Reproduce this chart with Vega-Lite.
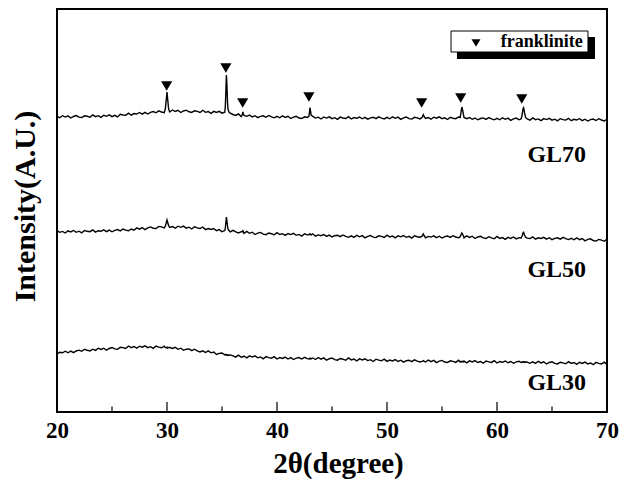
{
  "$schema": "https://vega.github.io/schema/vega-lite/v6.json",
  "width": 550,
  "height": 403,
  "autosize": {"type": "none"},
  "padding": {"left": 57, "top": 9, "right": 14, "bottom": 77},
  "background": "white",
  "config": {"view": {"stroke": "#000", "strokeWidth": 2}, "font": "Liberation Serif"},
  "datasets": {
    "xrd": [
      {"x":20,"GL70":295.6,"GL50":181.4,"GL30":58.0},
      {"x":20.25,"GL70":294.3,"GL50":179.7,"GL30":59.7},
      {"x":20.5,"GL70":296.3,"GL50":180.6,"GL30":59.2},
      {"x":20.75,"GL70":294.9,"GL50":179.0,"GL30":60.8},
      {"x":21,"GL70":296.1,"GL50":181.1,"GL30":59.2},
      {"x":21.25,"GL70":294.0,"GL50":180.1,"GL30":60.9},
      {"x":21.5,"GL70":295.5,"GL50":181.5,"GL30":59.3},
      {"x":21.75,"GL70":296.4,"GL50":179.7,"GL30":61.0},
      {"x":22,"GL70":294.8,"GL50":180.8,"GL30":61.8},
      {"x":22.25,"GL70":294.4,"GL50":179.2,"GL30":60.7},
      {"x":22.5,"GL70":296.2,"GL50":181.5,"GL30":62.7},
      {"x":22.75,"GL70":295.7,"GL50":180.7,"GL30":61.7},
      {"x":23,"GL70":294.7,"GL50":180.3,"GL30":61.1},
      {"x":23.25,"GL70":297.1,"GL50":182.1,"GL30":62.8},
      {"x":23.5,"GL70":295.3,"GL50":179.9,"GL30":61.6},
      {"x":23.75,"GL70":296.3,"GL50":181.3,"GL30":63.8},
      {"x":24,"GL70":294.6,"GL50":180.7,"GL30":62.5},
      {"x":24.25,"GL70":296.7,"GL50":182.1,"GL30":63.8},
      {"x":24.5,"GL70":295.7,"GL50":180.4,"GL30":61.8},
      {"x":24.75,"GL70":297.1,"GL50":181.9,"GL30":63.5},
      {"x":25,"GL70":295.3,"GL50":180.2,"GL30":64.5},
      {"x":25.25,"GL70":296.6,"GL50":181.7,"GL30":63.1},
      {"x":25.5,"GL70":295.1,"GL50":182.4,"GL30":62.8},
      {"x":25.75,"GL70":297.7,"GL50":181.1,"GL30":64.8},
      {"x":26,"GL70":297.0,"GL50":183.0,"GL30":64.4},
      {"x":26.25,"GL70":296.8,"GL50":181.8,"GL30":63.5},
      {"x":26.5,"GL70":298.8,"GL50":181.2,"GL30":66.0},
      {"x":26.75,"GL70":296.8,"GL50":183.0,"GL30":64.4},
      {"x":27,"GL70":298.4,"GL50":181.8,"GL30":65.5},
      {"x":27.25,"GL70":298.0,"GL50":184.1,"GL30":63.8},
      {"x":27.5,"GL70":299.5,"GL50":182.8,"GL30":65.8},
      {"x":27.75,"GL70":297.9,"GL50":184.3,"GL30":64.8},
      {"x":28,"GL70":299.6,"GL50":182.3,"GL30":66.1},
      {"x":28.25,"GL70":298.0,"GL50":184.1,"GL30":64.3},
      {"x":28.5,"GL70":299.6,"GL50":185.1,"GL30":65.3},
      {"x":28.75,"GL70":300.4,"GL50":183.8,"GL30":63.6},
      {"x":29,"GL70":299.2,"GL50":183.5,"GL30":65.9},
      {"x":29.25,"GL70":301.1,"GL50":185.6,"GL30":64.9},
      {"x":29.5,"GL70":300.0,"GL50":185.1,"GL30":64.2},
      {"x":29.75,"GL70":299.4,"GL50":184.1,"GL30":65.8},
      {"x":29.85,"GL70":303.4,"GL50":186.0,"GL30":64.4},
      {"x":29.95,"GL70":314.2,"GL50":189.9,"GL30":64.3},
      {"x":30,"GL70":320.0,"GL50":192.0,"GL30":64.8},
      {"x":30.05,"GL70":314.0,"GL50":190.0,"GL30":63.9},
      {"x":30.15,"GL70":303.0,"GL50":186.3,"GL30":64.6},
      {"x":30.25,"GL70":300.0,"GL50":184.6,"GL30":64.5},
      {"x":30.5,"GL70":302.0,"GL50":185.5,"GL30":63.6},
      {"x":30.75,"GL70":300.5,"GL50":183.8,"GL30":64.7},
      {"x":31,"GL70":301.7,"GL50":185.8,"GL30":62.7},
      {"x":31.25,"GL70":299.5,"GL50":184.7,"GL30":63.8},
      {"x":31.5,"GL70":301.0,"GL50":185.9,"GL30":61.7},
      {"x":31.75,"GL70":301.8,"GL50":183.9,"GL30":62.8},
      {"x":32,"GL70":300.2,"GL50":184.8,"GL30":63.1},
      {"x":32.25,"GL70":299.6,"GL50":183.0,"GL30":61.3},
      {"x":32.5,"GL70":301.3,"GL50":185.2,"GL30":62.8},
      {"x":32.75,"GL70":300.6,"GL50":184.1,"GL30":61.2},
      {"x":33,"GL70":299.5,"GL50":183.5,"GL30":60.1},
      {"x":33.25,"GL70":301.7,"GL50":185.0,"GL30":61.2},
      {"x":33.5,"GL70":299.7,"GL50":182.4,"GL30":59.5},
      {"x":33.75,"GL70":300.5,"GL50":183.5,"GL30":61.1},
      {"x":34,"GL70":298.7,"GL50":182.5,"GL30":59.2},
      {"x":34.25,"GL70":300.6,"GL50":183.4,"GL30":60.0},
      {"x":34.5,"GL70":299.5,"GL50":181.3,"GL30":57.5},
      {"x":34.75,"GL70":300.7,"GL50":182.4,"GL30":58.6},
      {"x":35,"GL70":298.8,"GL50":180.3,"GL30":59.0},
      {"x":35.25,"GL70":299.8,"GL50":181.4,"GL30":57.1},
      {"x":35.3,"GL70":305.0,"GL50":183.5,"GL30":57.6},
      {"x":35.35,"GL70":320.0,"GL50":189.5,"GL30":57.0},
      {"x":35.4,"GL70":337.0,"GL50":195.0,"GL30":57.4},
      {"x":35.45,"GL70":326.0,"GL50":191.0,"GL30":56.9},
      {"x":35.5,"GL70":310.0,"GL50":186.0,"GL30":57.2},
      {"x":35.55,"GL70":302.5,"GL50":182.8,"GL30":56.6},
      {"x":35.65,"GL70":299.6,"GL50":181.2,"GL30":57.0},
      {"x":35.75,"GL70":298.8,"GL50":180.2,"GL30":57.1},
      {"x":36,"GL70":297.5,"GL50":181.7,"GL30":56.2},
      {"x":36.25,"GL70":296.6,"GL50":180.2,"GL30":54.9},
      {"x":36.5,"GL70":298.1,"GL50":179.1,"GL30":56.9},
      {"x":36.75,"GL70":295.4,"GL50":180.4,"GL30":54.8},
      {"x":36.85,"GL70":297.5,"GL50":180.3,"GL30":55.3},
      {"x":36.9,"GL70":300.2,"GL50":181.2,"GL30":55.0},
      {"x":36.95,"GL70":298.0,"GL50":180.1,"GL30":55.6},
      {"x":37,"GL70":296.6,"GL50":178.7,"GL30":56.0},
      {"x":37.25,"GL70":295.7,"GL50":180.6,"GL30":54.2},
      {"x":37.5,"GL70":296.9,"GL50":178.7,"GL30":56.1},
      {"x":37.75,"GL70":295.0,"GL50":179.8,"GL30":54.9},
      {"x":38,"GL70":296.3,"GL50":177.5,"GL30":56.1},
      {"x":38.25,"GL70":294.4,"GL50":178.9,"GL30":54.2},
      {"x":38.5,"GL70":295.7,"GL50":179.6,"GL30":55.1},
      {"x":38.75,"GL70":296.2,"GL50":177.9,"GL30":53.2},
      {"x":39,"GL70":294.7,"GL50":177.3,"GL30":55.4},
      {"x":39.25,"GL70":296.5,"GL50":179.0,"GL30":54.4},
      {"x":39.5,"GL70":295.1,"GL50":178.3,"GL30":53.8},
      {"x":39.75,"GL70":294.2,"GL50":177.2,"GL30":55.4},
      {"x":40,"GL70":295.6,"GL50":179.4,"GL30":53.0},
      {"x":40.25,"GL70":294.2,"GL50":177.5,"GL30":54.4},
      {"x":40.5,"GL70":296.1,"GL50":178.3,"GL30":53.6},
      {"x":40.75,"GL70":294.6,"GL50":176.6,"GL30":54.9},
      {"x":41,"GL70":295.7,"GL50":178.5,"GL30":53.0},
      {"x":41.25,"GL70":293.5,"GL50":177.4,"GL30":54.4},
      {"x":41.5,"GL70":294.9,"GL50":178.6,"GL30":52.5},
      {"x":41.75,"GL70":295.7,"GL50":176.7,"GL30":53.9},
      {"x":42,"GL70":294.0,"GL50":177.6,"GL30":54.4},
      {"x":42.25,"GL70":293.5,"GL50":175.9,"GL30":53.0},
      {"x":42.5,"GL70":295.2,"GL50":178.1,"GL30":54.7},
      {"x":42.75,"GL70":294.6,"GL50":177.1,"GL30":53.4},
      {"x":42.9,"GL70":295.6,"GL50":177.3,"GL30":53.0},
      {"x":42.95,"GL70":299.5,"GL50":177.6,"GL30":53.6},
      {"x":43,"GL70":304.4,"GL50":178.2,"GL30":53.2},
      {"x":43.05,"GL70":301.0,"GL50":177.8,"GL30":53.7},
      {"x":43.1,"GL70":296.8,"GL50":177.0,"GL30":53.1},
      {"x":43.25,"GL70":295.7,"GL50":178.2,"GL30":54.0},
      {"x":43.5,"GL70":293.9,"GL50":175.8,"GL30":52.5},
      {"x":43.75,"GL70":294.8,"GL50":177.1,"GL30":54.5},
      {"x":44,"GL70":293.0,"GL50":176.3,"GL30":52.9},
      {"x":44.25,"GL70":295.0,"GL50":177.5,"GL30":54.1},
      {"x":44.5,"GL70":293.9,"GL50":175.6,"GL30":51.8},
      {"x":44.75,"GL70":295.2,"GL50":176.9,"GL30":53.3},
      {"x":45,"GL70":293.3,"GL50":175.0,"GL30":54.0},
      {"x":45.25,"GL70":294.3,"GL50":176.3,"GL30":52.3},
      {"x":45.5,"GL70":292.6,"GL50":176.8,"GL30":51.8},
      {"x":45.75,"GL70":294.9,"GL50":175.3,"GL30":53.5},
      {"x":46,"GL70":294.0,"GL50":177.0,"GL30":52.8},
      {"x":46.25,"GL70":293.5,"GL50":175.6,"GL30":51.7},
      {"x":46.5,"GL70":295.3,"GL50":174.7,"GL30":54.0},
      {"x":46.75,"GL70":293.0,"GL50":176.2,"GL30":52.1},
      {"x":47,"GL70":294.4,"GL50":174.7,"GL30":52.9},
      {"x":47.25,"GL70":293.7,"GL50":176.7,"GL30":51.2},
      {"x":47.5,"GL70":295.0,"GL50":175.2,"GL30":53.1},
      {"x":47.75,"GL70":293.2,"GL50":176.4,"GL30":52.0},
      {"x":48,"GL70":294.6,"GL50":174.2,"GL30":53.2},
      {"x":48.25,"GL70":292.8,"GL50":175.7,"GL30":51.4},
      {"x":48.5,"GL70":294.2,"GL50":176.5,"GL30":52.3},
      {"x":48.75,"GL70":294.8,"GL50":174.9,"GL30":50.5},
      {"x":49,"GL70":293.4,"GL50":174.4,"GL30":52.8},
      {"x":49.25,"GL70":295.2,"GL50":176.2,"GL30":51.8},
      {"x":49.5,"GL70":293.9,"GL50":175.6,"GL30":51.2},
      {"x":49.75,"GL70":293.1,"GL50":174.5,"GL30":52.9},
      {"x":50,"GL70":294.6,"GL50":176.8,"GL30":50.6},
      {"x":50.25,"GL70":293.2,"GL50":175.0,"GL30":51.9},
      {"x":50.5,"GL70":295.2,"GL50":175.9,"GL30":51.1},
      {"x":50.75,"GL70":293.7,"GL50":174.2,"GL30":52.4},
      {"x":51,"GL70":294.9,"GL50":176.2,"GL30":50.5},
      {"x":51.25,"GL70":292.7,"GL50":175.2,"GL30":51.8},
      {"x":51.5,"GL70":294.2,"GL50":176.5,"GL30":49.9},
      {"x":51.75,"GL70":295.0,"GL50":174.7,"GL30":51.3},
      {"x":52,"GL70":293.4,"GL50":175.7,"GL30":51.8},
      {"x":52.25,"GL70":292.9,"GL50":173.9,"GL30":50.4},
      {"x":52.5,"GL70":294.7,"GL50":176.2,"GL30":52.1},
      {"x":52.75,"GL70":294.1,"GL50":175.3,"GL30":50.8},
      {"x":53,"GL70":293.1,"GL50":174.8,"GL30":50.0},
      {"x":53.2,"GL70":294.8,"GL50":175.9,"GL30":50.6},
      {"x":53.3,"GL70":297.3,"GL50":178.0,"GL30":51.3},
      {"x":53.4,"GL70":295.0,"GL50":176.2,"GL30":50.5},
      {"x":53.5,"GL70":293.6,"GL50":174.2,"GL30":50.0},
      {"x":53.75,"GL70":294.5,"GL50":175.6,"GL30":52.0},
      {"x":54,"GL70":292.8,"GL50":174.9,"GL30":50.4},
      {"x":54.25,"GL70":294.8,"GL50":176.2,"GL30":51.6},
      {"x":54.5,"GL70":293.8,"GL50":174.4,"GL30":49.4},
      {"x":54.75,"GL70":295.1,"GL50":175.8,"GL30":50.9},
      {"x":55,"GL70":293.3,"GL50":174.0,"GL30":51.6},
      {"x":55.25,"GL70":294.2,"GL50":175.4,"GL30":50.0},
      {"x":55.5,"GL70":292.5,"GL50":176.0,"GL30":49.5},
      {"x":55.75,"GL70":294.7,"GL50":174.6,"GL30":51.2},
      {"x":56,"GL70":293.8,"GL50":176.3,"GL30":50.6},
      {"x":56.25,"GL70":293.3,"GL50":175.0,"GL30":49.6},
      {"x":56.5,"GL70":295.0,"GL50":174.2,"GL30":51.8},
      {"x":56.65,"GL70":294.5,"GL50":175.3,"GL30":50.0},
      {"x":56.72,"GL70":299.0,"GL50":177.0,"GL30":50.6},
      {"x":56.8,"GL70":305.0,"GL50":179.0,"GL30":50.1},
      {"x":56.88,"GL70":301.5,"GL50":177.6,"GL30":50.7},
      {"x":56.96,"GL70":296.8,"GL50":175.8,"GL30":50.2},
      {"x":57,"GL70":294.6,"GL50":174.2,"GL30":50.9},
      {"x":57.25,"GL70":293.3,"GL50":176.1,"GL30":49.1},
      {"x":57.5,"GL70":294.5,"GL50":174.6,"GL30":51.1},
      {"x":57.75,"GL70":292.7,"GL50":175.8,"GL30":50.1},
      {"x":58,"GL70":294.0,"GL50":173.5,"GL30":51.4},
      {"x":58.25,"GL70":292.2,"GL50":175.0,"GL30":49.5},
      {"x":58.5,"GL70":293.5,"GL50":175.7,"GL30":50.5},
      {"x":58.75,"GL70":294.1,"GL50":174.1,"GL30":48.8},
      {"x":59,"GL70":292.6,"GL50":173.5,"GL30":51.0},
      {"x":59.25,"GL70":294.4,"GL50":175.3,"GL30":50.1},
      {"x":59.5,"GL70":293.1,"GL50":174.2,"GL30":49.6},
      {"x":59.75,"GL70":292.2,"GL50":173.2,"GL30":51.3},
      {"x":60,"GL70":293.6,"GL50":175.5,"GL30":49.0},
      {"x":60.25,"GL70":292.2,"GL50":173.6,"GL30":50.4},
      {"x":60.5,"GL70":294.2,"GL50":174.4,"GL30":49.7},
      {"x":60.75,"GL70":292.7,"GL50":172.7,"GL30":51.0},
      {"x":61,"GL70":293.9,"GL50":174.6,"GL30":49.2},
      {"x":61.25,"GL70":291.6,"GL50":173.6,"GL30":50.5},
      {"x":61.5,"GL70":293.2,"GL50":175.0,"GL30":48.7},
      {"x":61.75,"GL70":293.9,"GL50":173.1,"GL30":50.1},
      {"x":62,"GL70":292.2,"GL50":174.3,"GL30":50.7},
      {"x":62.2,"GL70":293.3,"GL50":174.0,"GL30":49.5},
      {"x":62.28,"GL70":297.0,"GL50":176.0,"GL30":50.1},
      {"x":62.36,"GL70":303.0,"GL50":178.8,"GL30":49.7},
      {"x":62.42,"GL70":304.2,"GL50":179.6,"GL30":50.3},
      {"x":62.5,"GL70":299.5,"GL50":177.0,"GL30":49.6},
      {"x":62.6,"GL70":294.6,"GL50":174.8,"GL30":50.2},
      {"x":62.75,"GL70":293.0,"GL50":173.9,"GL30":49.8},
      {"x":63,"GL70":291.8,"GL50":173.4,"GL30":48.7},
      {"x":63.25,"GL70":294.1,"GL50":175.1,"GL30":50.2},
      {"x":63.5,"GL70":292.3,"GL50":172.8,"GL30":48.7},
      {"x":63.75,"GL70":293.1,"GL50":174.2,"GL30":50.7},
      {"x":64,"GL70":291.4,"GL50":173.5,"GL30":49.1},
      {"x":64.25,"GL70":293.4,"GL50":174.7,"GL30":50.2},
      {"x":64.5,"GL70":292.4,"GL50":172.9,"GL30":48.0},
      {"x":64.75,"GL70":293.6,"GL50":174.3,"GL30":49.5},
      {"x":65,"GL70":291.8,"GL50":172.4,"GL30":50.2},
      {"x":65.25,"GL70":292.8,"GL50":173.6,"GL30":48.6},
      {"x":65.5,"GL70":291.1,"GL50":174.2,"GL30":48.1},
      {"x":65.75,"GL70":293.3,"GL50":172.8,"GL30":49.8},
      {"x":66,"GL70":292.4,"GL50":174.7,"GL30":49.2},
      {"x":66.25,"GL70":291.9,"GL50":173.3,"GL30":48.2},
      {"x":66.5,"GL70":293.7,"GL50":172.4,"GL30":50.4},
      {"x":66.75,"GL70":291.3,"GL50":173.7,"GL30":48.6},
      {"x":67,"GL70":292.7,"GL50":172.2,"GL30":49.5},
      {"x":67.25,"GL70":292.0,"GL50":174.1,"GL30":47.7},
      {"x":67.5,"GL70":293.3,"GL50":172.4,"GL30":49.7},
      {"x":67.75,"GL70":291.4,"GL50":173.5,"GL30":48.6},
      {"x":68,"GL70":292.8,"GL50":171.2,"GL30":49.9},
      {"x":68.25,"GL70":291.0,"GL50":172.6,"GL30":48.1},
      {"x":68.5,"GL70":292.4,"GL50":173.2,"GL30":49.0},
      {"x":68.75,"GL70":292.9,"GL50":171.5,"GL30":47.3},
      {"x":69,"GL70":291.5,"GL50":170.9,"GL30":49.6},
      {"x":69.25,"GL70":293.3,"GL50":172.6,"GL30":48.6},
      {"x":69.5,"GL70":292.0,"GL50":171.9,"GL30":48.1},
      {"x":69.75,"GL70":291.1,"GL50":170.7,"GL30":49.8},
      {"x":70,"GL70":292.6,"GL50":172.9,"GL30":47.5}
    ],
    "peaks": [
      {"x":29.97,"y":326},
      {"x":35.35,"y":344},
      {"x":36.88,"y":309},
      {"x":42.9,"y":315},
      {"x":53.15,"y":309},
      {"x":56.7,"y":314},
      {"x":62.25,"y":313}
    ],
    "labels": [
      {"x":68.1,"y":257,"t":"GL70"},
      {"x":68.1,"y":142,"t":"GL50"},
      {"x":68.1,"y":29,"t":"GL30"}
    ],
    "majorTicks": [{"x":30},{"x":40},{"x":50},{"x":60}],
    "minorTicks": [{"x":25},{"x":35},{"x":45},{"x":55},{"x":65}],
    "legendShadow": [{"x":56.36,"x2":68.91,"y":353,"y2":375}],
    "legendBox": [{"x":55.82,"x2":68.27,"y":360,"y2":381}],
    "legendSymbol": [{"x":58.09,"y":369}],
    "legendText": [{"x":60.35,"y":370,"t":"franklinite"}]
  },
  "layer": [
    {
      "data": {"name": "xrd"},
      "transform": [{"fold": ["GL70", "GL50", "GL30"], "as": ["s", "y"]}],
      "mark": {"type": "line", "color": "#000", "strokeWidth": 1.4},
      "encoding": {
        "x": {"field": "x", "type": "quantitative",
          "scale": {"domain": [20, 70], "nice": false, "zero": false},
          "axis": {"title": "2θ(degree)", "values": [20, 30, 40, 50, 60, 70], "format": "d",
            "ticks": false, "domain": false, "grid": false, "labelFlush": false,
            "labelFont": "Liberation Serif", "labelFontSize": 23, "labelFontWeight": "bold", "labelColor": "#000", "labelPadding": 7,
            "titleFont": "Liberation Serif", "titleFontSize": 29, "titleFontWeight": "bold", "titleColor": "#000", "titlePadding": 7, "titleX": 281}},
        "y": {"field": "y", "type": "quantitative",
          "scale": {"domain": [0, 403], "nice": false, "zero": false},
          "axis": {"title": "Intensity(A.U.)", "labels": false, "ticks": false, "domain": false, "grid": false,
            "titleFont": "Liberation Serif", "titleFontSize": 30, "titleFontWeight": "bold", "titleColor": "#000",
            "titleX": -32, "titleY": 197, "titleBaseline": "middle", "titleAngle": 270, "titleAlign": "center"}},
        "detail": {"field": "s"}
      }
    },
    {
      "data": {"name": "majorTicks"},
      "mark": {"type": "rule", "color": "#000", "strokeWidth": 1.2},
      "encoding": {"x": {"field": "x", "type": "quantitative"}, "y": {"datum": 0, "type": "quantitative"}, "y2": {"datum": 10}}
    },
    {
      "data": {"name": "minorTicks"},
      "mark": {"type": "rule", "color": "#000", "strokeWidth": 1.2},
      "encoding": {"x": {"field": "x", "type": "quantitative"}, "y": {"datum": 0, "type": "quantitative"}, "y2": {"datum": 5.5}}
    },
    {
      "data": {"name": "peaks"},
      "mark": {"type": "point", "shape": "triangle-down", "filled": true, "color": "#000", "opacity": 1, "size": 125},
      "encoding": {"x": {"field": "x", "type": "quantitative"}, "y": {"field": "y", "type": "quantitative"}}
    },
    {
      "data": {"name": "labels"},
      "mark": {"type": "text", "align": "right", "baseline": "middle", "font": "Liberation Serif", "fontSize": 24, "fontWeight": "bold", "color": "#000"},
      "encoding": {"x": {"field": "x", "type": "quantitative"}, "y": {"field": "y", "type": "quantitative"}, "text": {"field": "t"}}
    },
    {
      "data": {"name": "legendShadow"},
      "mark": {"type": "rect", "color": "#000"},
      "encoding": {"x": {"field": "x", "type": "quantitative"}, "x2": {"field": "x2"}, "y": {"field": "y", "type": "quantitative"}, "y2": {"field": "y2"}}
    },
    {
      "data": {"name": "legendBox"},
      "mark": {"type": "rect", "fill": "#fff", "stroke": "#000", "strokeWidth": 1},
      "encoding": {"x": {"field": "x", "type": "quantitative"}, "x2": {"field": "x2"}, "y": {"field": "y", "type": "quantitative"}, "y2": {"field": "y2"}}
    },
    {
      "data": {"name": "legendSymbol"},
      "mark": {"type": "point", "shape": "triangle-down", "filled": true, "color": "#000", "opacity": 1, "size": 80},
      "encoding": {"x": {"field": "x", "type": "quantitative"}, "y": {"field": "y", "type": "quantitative"}}
    },
    {
      "data": {"name": "legendText"},
      "mark": {"type": "text", "align": "left", "baseline": "middle", "font": "Liberation Serif", "fontSize": 18, "fontWeight": "bold", "color": "#000"},
      "encoding": {"x": {"field": "x", "type": "quantitative"}, "y": {"field": "y", "type": "quantitative"}, "text": {"field": "t"}}
    }
  ]
}
